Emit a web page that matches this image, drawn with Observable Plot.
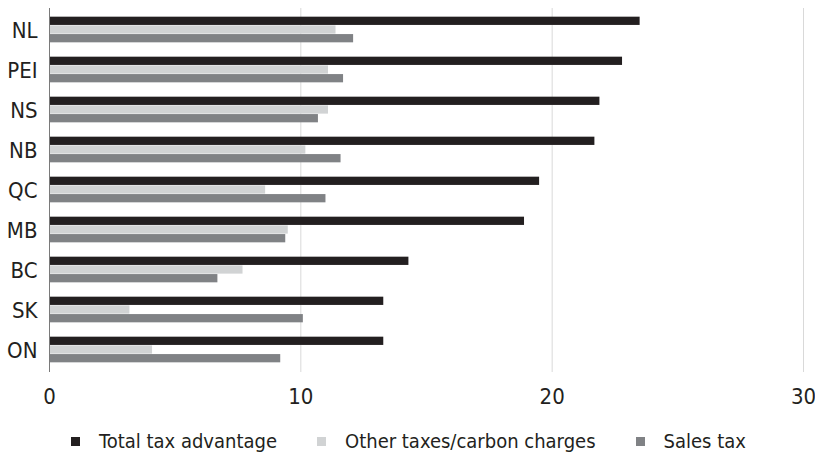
<!DOCTYPE html>
<html>
<head>
<meta charset="utf-8">
<script src="https://cdn.jsdelivr.net/npm/d3@7"></script>
<script src="https://cdn.jsdelivr.net/npm/@observablehq/plot@0.6"></script>
<style>
  html, body { margin: 0; padding: 0; background: #fff; }
  body { width: 815px; font-family: "Liberation Sans Narrow", "DejaVu Sans Condensed", "Roboto Condensed", "Noto Sans", sans-serif; }
  #chart svg { overflow: visible; display: block; }
  .legend { display: flex; justify-content: center; align-items: center; height: 30px; padding-top: 14px; font-size: 20px; color: #231f20; padding-left: 2px; }
  .legend .item { display: flex; align-items: center; margin: 0 20px; }
  .legend .sw { width: 9px; height: 9px; margin-right: 19px; }
</style>
</head>
<body>
<div id="chart"></div>
<div class="legend" id="legend"></div>
<script>
const provinces = ["NL", "PEI", "NS", "NB", "QC", "MB", "BC", "SK", "ON"];
const seriesNames = ["Total tax advantage", "Other taxes/carbon charges", "Sales tax"];
const seriesColors = ["#231f20", "#d1d3d4", "#808285"];
const totalAdvantage = [23.5, 22.8, 21.9, 21.7, 19.5, 18.9, 14.3, 13.3, 13.3];
const otherTaxes     = [11.4, 11.1, 11.1, 10.2, 8.6, 9.5, 7.7, 3.2, 4.1];
const salesTax       = [12.1, 11.7, 10.7, 11.6, 11.0, 9.4, 6.7, 10.1, 9.2];
const xTicks = [0, 10, 20, 30];

const seriesValues = [totalAdvantage, otherTaxes, salesTax];
const table = [];
seriesNames.forEach((s, i) => provinces.forEach((p, j) => table.push({province: p, series: s, value: seriesValues[i][j]})));

const marginTop = 8, marginBottom = 40, height = 412;
const band = (height - marginTop - marginBottom) / provinces.length;
const barH = 8.7;
const groupOffset = (band - 3 * barH) / 2 - 0.5;

const marks = [
  Plot.ruleX(xTicks.filter(d => d > 0), {stroke: "#d9d9d9", strokeWidth: 1})
];
seriesNames.forEach((s, i) => {
  marks.push(Plot.barX(table.filter(d => d.series === s), {
    x: "value", y: "province", fill: seriesColors[i],
    insetTop: groupOffset + i * barH,
    insetBottom: band - groupOffset - (i + 1) * barH
  }));
});
marks.push(Plot.ruleX([0], {stroke: "#7a7a7a", strokeWidth: 1}));

const chart = Plot.plot({
  width: 815,
  height,
  marginTop,
  marginBottom,
  marginLeft: 49,
  marginRight: 12,
  style: {fontFamily: "inherit", fontSize: "22px", color: "#231f20", background: "#fff"},
  x: {domain: [0, 30], ticks: xTicks, tickSize: 0, tickPadding: 16, label: null},
  y: {domain: provinces, padding: 0, tickSize: 0, tickPadding: 12, label: null},
  marks
});
document.getElementById("chart").appendChild(chart);

const legend = document.getElementById("legend");
seriesNames.forEach((s, i) => {
  const item = document.createElement("div");
  item.className = "item";
  const sw = document.createElement("span");
  sw.className = "sw";
  sw.style.background = seriesColors[i];
  const t = document.createElement("span");
  t.textContent = s;
  item.appendChild(sw); item.appendChild(t);
  legend.appendChild(item);
});
</script>
</body>
</html>
